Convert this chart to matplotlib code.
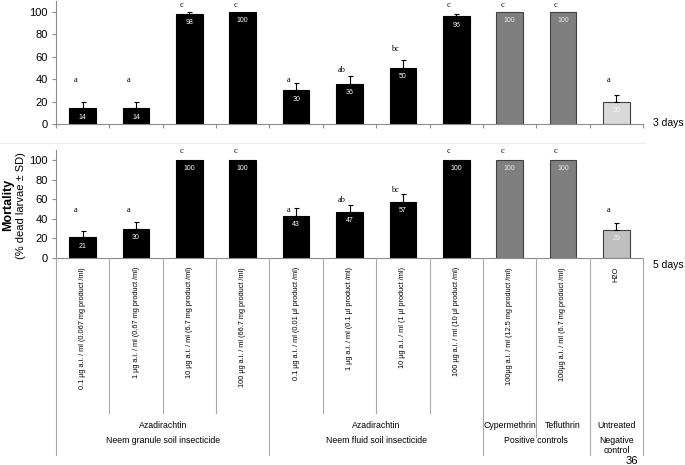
import matplotlib
matplotlib.use("Agg")
import matplotlib.pyplot as plt
from matplotlib.transforms import blended_transform_factory
import numpy as np

plt.rcParams['font.family'] = ['Liberation Sans', 'DejaVu Sans']

# treatments (bottom level of the category axis)
doses = ["0.1 µg a.i. / ml (0.067 mg product /ml)",
         "1 µg a.i. / ml (0.67 mg product /ml)",
         "10 µg a.i. / ml (6.7 mg product /ml)",
         "100 µg a.i. / ml (66.7 mg product /ml)",
         "0.1 µg a.i. / ml (0.01 µl product /ml)",
         "1 µg a.i. / ml (0.1 µl product /ml)",
         "10 µg a.i. / ml (1 µl product /ml)",
         "100 µg a.i. / ml (10 µl product /ml)",
         "100µg a.i. / ml (12.5 mg product /ml)",
         "100µg a.i. / ml (6.7 mg product /ml)",
         "H2O"]
actives = [("Azadirachtin", 0, 3), ("Azadirachtin", 4, 7), ("Cypermethrin", 8, 8),
           ("Tefluthrin", 9, 9), ("Untreated", 10, 10)]
groups = [("Neem granule soil insecticide", 0, 3), ("Neem fluid soil insecticide", 4, 7),
          ("Positive controls", 8, 9), ("Negative\ncontrol", 10, 10)]

# mortality after 3 days
mort_3d = [14, 14, 98, 100, 30, 36, 50, 96, 100, 100, 20]
sd_3d = [6, 5.5, 2, 0, 6.5, 7, 7, 2.5, 0, 0, 6]
let_3d = ["a", "a", "c", "c", "a", "ab", "bc", "c", "c", "c", "a"]
let_y_3d = [39, 39, 106, 106, 39, 48, 67, 106, 106, 106, 39]

# mortality after 5 days
mort_5d = [21, 30, 100, 100, 43, 47, 57, 100, 100, 100, 29]
sd_5d = [7, 7, 0, 0, 8, 7.5, 8, 0, 0, 0, 7]
let_5d = ["a", "a", "c", "c", "a", "ab", "bc", "c", "c", "c", "a"]
let_y_5d = [49, 49, 109, 109, 49, 59, 69, 109, 109, 109, 49]

W, H = 685, 465
fig = plt.figure(figsize=(W / 100, H / 100), dpi=100)


def fy(py):
    return 1 - py / H


x = np.arange(len(doses))
edge_grey = "#8c8c8c"


def draw_panel(ax, vals, sds, letters, let_y, h2o_color, day_text, day_y):
    colors = ["black"] * 8 + ["#7f7f7f", "#7f7f7f", h2o_color]
    edges = ["black"] * 8 + ["#404040"] * 3
    ax.bar(x, vals, width=0.5, color=colors, edgecolor=edges, linewidth=0.8, zorder=2)
    sds = np.array(sds)
    m = sds > 0
    ax.errorbar(x[m], np.array(vals)[m], yerr=[np.zeros(m.sum()), sds[m]], fmt='none',
                ecolor='black', elinewidth=0.8, capsize=1.8, capthick=0.8, zorder=3)
    txt_cols = ["white"] * 8 + ["#e8e8e8", "#e8e8e8", "#f4f4f4"]
    for i, v in enumerate(vals):
        ax.annotate(str(v), (x[i], v), xytext=(0, -6.3), textcoords='offset points',
                    ha='center', va='center', fontsize=5, color=txt_cols[i], zorder=4)
        ax.text(x[i] - 0.14, let_y[i], letters[i], ha='center', va='center',
                fontsize=6, family='Liberation Serif', color='black')
    ax.set_xlim(-0.5, len(doses) - 0.5)
    ax.set_ylim(0, 110)
    ax.set_yticks([0, 20, 40, 60, 80, 100])
    ax.tick_params(axis='y', direction='out', length=3, width=0.8, color=edge_grey,
                   labelsize=8, pad=3)
    ax.set_xticks(np.arange(len(doses) + 1) - 0.5)
    ax.tick_params(axis='x', direction='out', length=3, width=0.8, color=edge_grey,
                   labelbottom=False)
    for s in ['top', 'right']:
        ax.spines[s].set_visible(False)
    for s in ['left', 'bottom']:
        ax.spines[s].set_color(edge_grey)
        ax.spines[s].set_linewidth(0.8)
    fig.text(653 / W, fy(day_y), day_text, ha='left', va='center', fontsize=7.5)


ax1 = fig.add_axes([56 / W, fy(124), 587 / W, 123.2 / H])
draw_panel(ax1, mort_3d, sd_3d, let_3d, let_y_3d, "#d9d9d9", "3 days", 123)

ax2 = fig.add_axes([56 / W, fy(258), 587 / W, 107.8 / H])
draw_panel(ax2, mort_5d, sd_5d, let_5d, let_y_5d, "#bfbfbf", "5 days", 265)
ax2.tick_params(axis='x', length=0)

# faint separator between the two charts
fig.add_artist(plt.Line2D([0, 645 / W], [fy(143), fy(143)], color="#ececec", lw=0.8))

# multi-level category axis under the bottom panel
tr = blended_transform_factory(ax2.transData, fig.transFigure)
line_kw = dict(color="#a6a6a6", lw=0.8, transform=tr, clip_on=False)
for i in range(len(doses) + 1):
    b = i - 0.5
    if b in (-0.5, 3.5, 7.5, 9.5, 10.5):
        end = 455
    elif b == 8.5:
        end = 437
    else:
        end = 413
    fig.add_artist(plt.Line2D([b, b], [fy(258), fy(end)], **line_kw))

for i, lab in enumerate(doses):
    fig.text(x[i], fy(267), lab, transform=tr, rotation=90, ha='center', va='top',
             fontsize=5.3)
for lab, a, b in actives:
    fig.text((a + b) / 2, fy(425), lab, transform=tr, ha='center', va='center', fontsize=6.3)
for lab, a, b in groups:
    fig.text((a + b) / 2, fy(436), lab, transform=tr, ha='center', va='top', fontsize=6.3,
             linespacing=1.1)

# y axis title
fig.text(8 / W, fy(205), "Mortality", rotation=90, ha='center', va='center',
         fontsize=9, fontweight='bold')
fig.text(21 / W, fy(206), "(% dead larvae ± SD)", rotation=90, ha='center', va='center',
         fontsize=8)

# page number
fig.text(632 / W, fy(461), "36", ha='center', va='center', fontsize=8)

fig.savefig("out.png", dpi=100)
